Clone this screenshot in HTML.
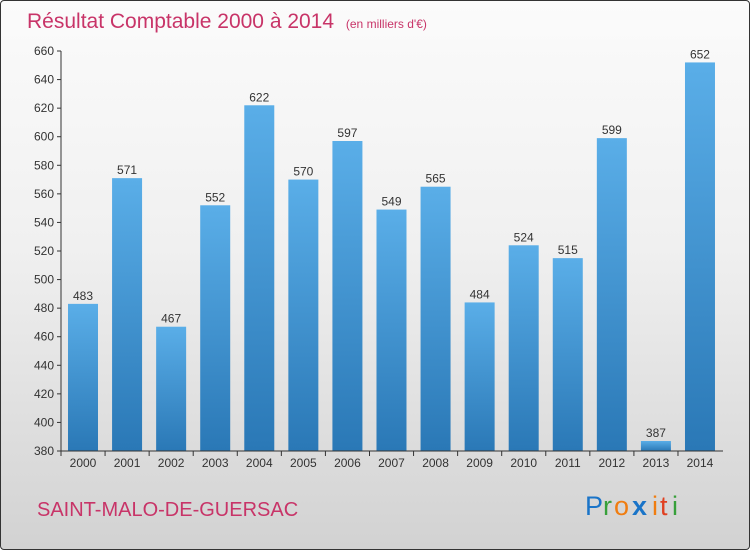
<!DOCTYPE html>
<html><head><meta charset="utf-8"><style>
body{margin:0;width:750px;height:550px;overflow:hidden;font-family:"Liberation Sans",sans-serif}
#wrap{position:absolute;left:0;top:0;width:748px;height:548px;border:1px solid #333;border-radius:4px;background:linear-gradient(#fbfbfb 0%,#f0f0f0 45%,#d2d2d2 100%)}
</style></head><body>
<div id="wrap">
<svg width="750" height="550" id="chart">
<defs><linearGradient id="bg" x1="0" y1="0" x2="0" y2="1"><stop offset="0" stop-color="#5aaee8"/><stop offset="1" stop-color="#2a78b6"/></linearGradient></defs>
<text x="26" y="27" font-size="21" fill="#c83468">Résultat Comptable 2000 à 2014 <tspan font-size="12" dx="6">(en milliers d'€)</tspan></text>
<text x="36" y="515" font-size="20" fill="#c83468">SAINT-MALO-DE-GUERSAC</text>
<g font-size="27">
<text x="584" y="514" fill="#1a74c8">P</text><text x="602" y="514" fill="#37a03a">r</text><text x="613" y="514" fill="#f07d10">o</text><text x="631" y="514" fill="#1a74c8" font-weight="bold">x</text><text x="651" y="514" fill="#f07d10">i</text><text x="659" y="514" fill="#e04020">t</text><text x="671" y="514" fill="#37a03a">i</text>
</g>
<g id="yaxis"></g><g id="bars"></g><g id="xaxis"></g>
</svg></div>
<script>
const years=["2000","2001","2002","2003","2004","2005","2006","2007","2008","2009","2010","2011","2012","2013","2014"];
const values=[483,571,467,552,622,570,597,549,565,484,524,515,599,387,652];
const yTicks=[380,400,420,440,460,480,500,520,540,560,580,600,620,640,660];
const NS="http://www.w3.org/2000/svg";
const y=v=>450-(v-380)*400/280;
const xc=i=>82+i*44.07;
function mk(t,a,p){const e=document.createElementNS(NS,t);for(const k in a)e.setAttribute(k,a[k]);p.appendChild(e);return e;}
const ya=document.getElementById('yaxis'),ba=document.getElementById('bars'),xa=document.getElementById('xaxis');
const yl=mk('line',{x1:60,x2:60,y1:50,y2:450,stroke:'#333'},ya);


yTicks.forEach(v=>{
 mk('line',{x1:56,x2:60,y1:y(v),y2:y(v),stroke:'#333'},ya);
 const t=mk('text',{x:53,y:y(v)+4,'text-anchor':'end','font-size':12,fill:'#333'},ya);t.textContent=v;
 
 
});
values.forEach((v,i)=>{
 const r=mk('rect',{x:xc(i)-15,y:y(v),width:30,height:450-y(v),fill:'url(#bg)'},ba);
 
 
 const t=mk('text',{x:xc(i),y:y(v)-4,'text-anchor':'middle','font-size':12,fill:'#333'},ba);t.textContent=v;
 
 
 mk('line',{x1:xc(i)-22,x2:xc(i)-22,y1:450,y2:455,stroke:'#333'},xa);
 const l=mk('text',{x:xc(i),y:466,'text-anchor':'middle','font-size':12,fill:'#333'},xa);l.textContent=years[i];
 
 
});
const xl=mk('line',{x1:60,x2:722,y1:450,y2:450,stroke:'#333'},xa);


</script>
</body></html>
